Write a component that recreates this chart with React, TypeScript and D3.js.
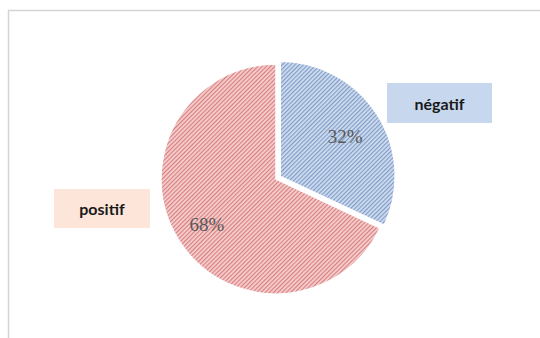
import React from "react";
import * as d3 from "d3";

const categories = ["négatif", "positif"];
const values = [32, 68];
const percentLabels = ["32%", "68%"];

const W = 540;
const H = 338;
const cx = 276;
const cy = 179;
const R = 115;
const explode = [5, 0];

const stripeColors = ["#7a98c6", "#d87a7a"];
const baseColors = ["#d0ddef", "#f5cfcf"];
const boxColors = ["#c6d7ee", "#fde6d9"];
const boxes = [
  { x: 387, y: 83, w: 105, h: 40 },
  { x: 54, y: 189, w: 96, h: 39 },
];

export default function App() {
  const pie = d3
    .pie<number>()
    .sort(null)
    .startAngle(0)
    .endAngle(2 * Math.PI)
    .value((d) => d);
  const arcs = pie(values);
  const arc = d3.arc<d3.PieArcDatum<number>>().innerRadius(0).outerRadius(R);
  const labelArc = d3
    .arc<d3.PieArcDatum<number>>()
    .innerRadius(R * 0.38)
    .outerRadius(R);

  return (
    <svg
      width={W}
      height={H}
      style={{ position: "absolute", left: 0, top: 0, background: "#fff" }}
    >
      <defs>
        {categories.map((c, i) => (
          <pattern
            key={c}
            id={`hatch${i}`}
            width={3}
            height={3}
            patternUnits="userSpaceOnUse"
            patternTransform="rotate(45)"
          >
            <rect width={3} height={3} fill={baseColors[i]} />
            <line x1={0.6} y1={0} x2={0.6} y2={3} stroke={stripeColors[i]} strokeWidth={1.1} />
          </pattern>
        ))}
      </defs>
      <rect x={8.5} y={10.5} width={W} height={H} fill="#fff" stroke="#d4d4d4" strokeWidth={1.5} />
      <g transform={`translate(${cx},${cy})`}>
        {arcs.map((a, i) => {
          const mid = (a.startAngle + a.endAngle) / 2;
          const dx = Math.sin(mid) * explode[i];
          const dy = -Math.cos(mid) * explode[i];
          const [lx, ly] = labelArc.centroid(a);
          return (
            <g key={categories[i]} transform={`translate(${dx},${dy})`}>
              <path d={arc(a) || ""} fill={`url(#hatch${i})`} stroke="#fff" strokeWidth={1.5} />
              <text
                x={lx - 2}
                y={ly + 3}
                textAnchor="middle"
                dominantBaseline="central"
                fontFamily="'Liberation Serif', 'DejaVu Serif', serif"
                fontSize={19}
                fill="#595959"
              >
                {percentLabels[i]}
              </text>
            </g>
          );
        })}
      </g>
      {categories.map((c, i) => (
        <g key={c}>
          <rect x={boxes[i].x} y={boxes[i].y} width={boxes[i].w} height={boxes[i].h} fill={boxColors[i]} />
          <text
            x={boxes[i].x + boxes[i].w / 2}
            y={boxes[i].y + boxes[i].h / 2}
            textAnchor="middle"
            dominantBaseline="central"
            fontFamily="Lato, 'Open Sans', sans-serif"
            fontWeight="bold"
            fontSize={16}
            fill="#1a1a1a"
          >
            {c}
          </text>
        </g>
      ))}
    </svg>
  );
}
